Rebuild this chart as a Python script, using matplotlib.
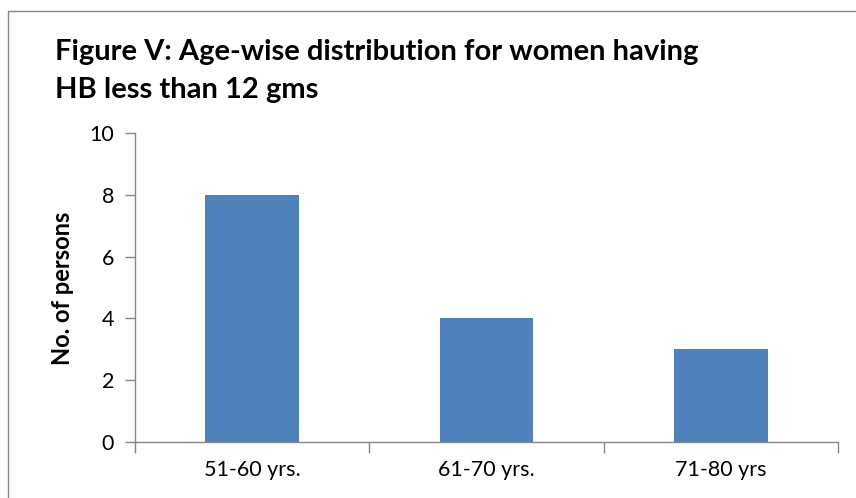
import matplotlib
matplotlib.use("Agg")
import matplotlib.pyplot as plt
from matplotlib.patches import Rectangle

categories = ["51-60 yrs.", "61-70 yrs.", "71-80 yrs"]
values = [8, 4, 3]
yticks = [0, 2, 4, 6, 8, 10]

plt.rcParams['font.family'] = ['Lato', 'DejaVu Sans']

fig = plt.figure(figsize=(8.56, 4.98), dpi=100)
ax = fig.add_axes([135/856, 1-442/498, (838-135)/856, (442-133)/498])

x = list(range(len(categories)))
ax.bar(x, values, width=0.4, color="#4F81BD", zorder=2)
ax.set_xlim(-0.5, len(categories) - 0.5)
ax.set_ylim(0, 10)
ax.set_yticks(yticks)
ax.set_yticklabels([str(v) for v in yticks], fontsize=15.5)
ax.set_xticks(x)
ax.set_xticklabels(categories, fontsize=15.5)
ax.tick_params(axis='x', length=0, pad=13)
ax.set_xticks([i - 0.5 for i in range(len(categories) + 1)], minor=True)
ax.tick_params(axis='x', which='minor', length=8, color="#868686", width=1)
ax.tick_params(axis='y', length=7, color="#868686", width=1, pad=8)
for s in ['top', 'right']:
    ax.spines[s].set_visible(False)
for s in ['left', 'bottom']:
    ax.spines[s].set_color("#868686")
    ax.spines[s].set_linewidth(1)

fig.text(63/856, 1-288/498, "No. of persons", fontsize=17, fontweight='bold',
         rotation=90, ha='center', va='center')

fig.text(55/856, 1-52/498, "Figure V: Age-wise distribution for women having",
         fontsize=21, fontweight='bold', ha='left', va='center')
fig.text(55/856, 1-90/498, "HB less than 12 gms",
         fontsize=21, fontweight='bold', ha='left', va='center')

fig.patches.append(Rectangle((8/856, -0.1), 1.2, 1 - 11/498 + 0.1, transform=fig.transFigure,
                             fill=False, edgecolor="#868686", linewidth=1))

fig.savefig("out.png", dpi=100)
